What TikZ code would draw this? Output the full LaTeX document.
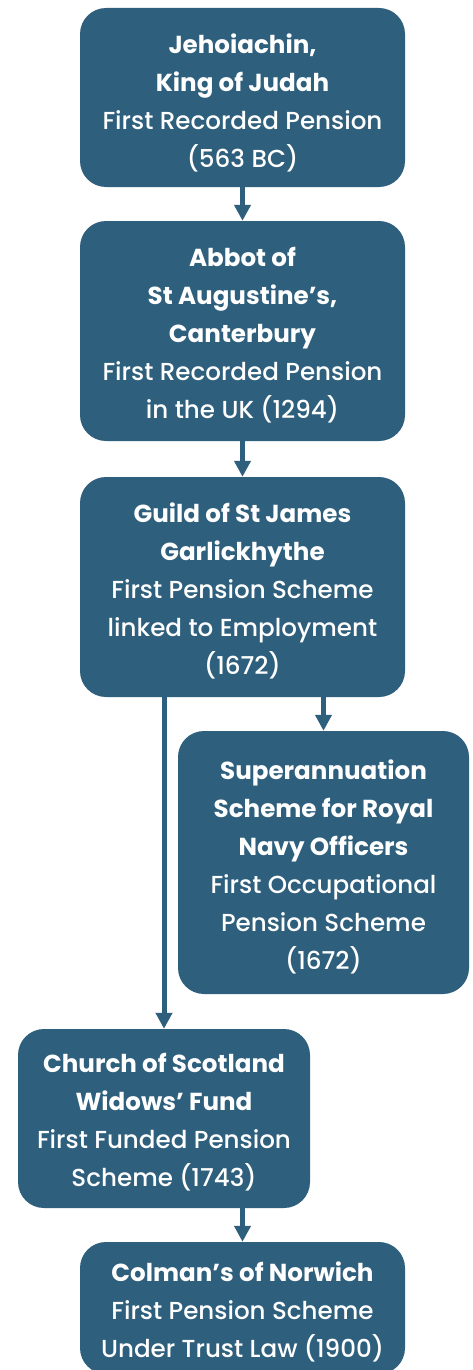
\documentclass[tikz,border=0pt]{standalone}
\usepackage{fontspec}
\setmainfont{Poppins}[UprightFont={* Medium}, BoldFont={* Bold}]
\usetikzlibrary{arrows.meta}
\definecolor{boxblue}{RGB}{46,95,124}
\tikzset{
  card/.style={rectangle, rounded corners=26pt, fill=boxblue, inner sep=0pt},
  cardtext/.style={text=white, align=center, inner sep=0pt,
    font=\fontsize{24.6}{38}\selectfont},
  link/.style={draw=boxblue, line width=5pt, -{Triangle[width=16pt,length=16pt]}}
}
\begin{document}
\begin{tikzpicture}[x=1pt,y=-1pt]
\clip (0,0) rectangle (473,1370);
\fill[white] (0,0) rectangle (473,1370);
\node[card, minimum width=325pt, minimum height=179pt] (b1) at (242.5,97.5) {};
\node[card, minimum width=325pt, minimum height=220pt] (b2) at (242.5,331) {};
\node[card, minimum width=325pt, minimum height=220pt] (b3) at (242.5,587) {};
\node[card, minimum width=291pt, minimum height=263pt] (b4) at (323.5,862.5) {};
\node[card, minimum width=292pt, minimum height=179pt] (b5) at (164,1118.5) {};
\node[card, minimum width=325pt, minimum height=132pt] (b6) at (242.5,1308) {};
\node[cardtext] (t1) at ([yshift=-5pt]b1.center)
  {\textbf{Jehoiachin,}\\ \textbf{King of Judah}\\ First Recorded Pension\\ (563 BC)};
\node[cardtext] (t2) at ([yshift=-4pt]b2.center)
  {\textbf{Abbot of}\\ \textbf{St Augustine’s,}\\ \textbf{Canterbury}\\ First Recorded Pension\\ in the UK (1294)};
\node[cardtext] (t3) at ([yshift=-3.5pt]b3.center)
  {\textbf{Guild of St James}\\ \textbf{Garlickhythe}\\ First Pension Scheme\\ linked to Employment\\ (1672)};
\node[cardtext] (t4) at ([yshift=-4pt]b4.center)
  {\textbf{Superannuation}\\ \textbf{Scheme for Royal}\\ \textbf{Navy Officers}\\ First Occupational\\ Pension Scheme\\ (1672)};
\node[cardtext] (t5) at ([yshift=-4pt]b5.center)
  {\textbf{Church of Scotland}\\ \textbf{Widows’ Fund}\\ First Funded Pension\\ Scheme (1743)};
\node[cardtext] (t6) at ([yshift=-4pt]b6.center)
  {\textbf{Colman’s of Norwich}\\ First Pension Scheme\\ Under Trust Law (1900)};
\draw[link] (b1.south) -- (b2.north);
\draw[link] (b2.south) -- (b3.north);
\draw[link] (b4.north |- b3.south) -- (b4.north);
\draw[link] (b5.north |- b3.south) -- (b5.north);
\draw[link] (b6.north |- b5.south) -- (b6.north);
\end{tikzpicture}
\end{document}
